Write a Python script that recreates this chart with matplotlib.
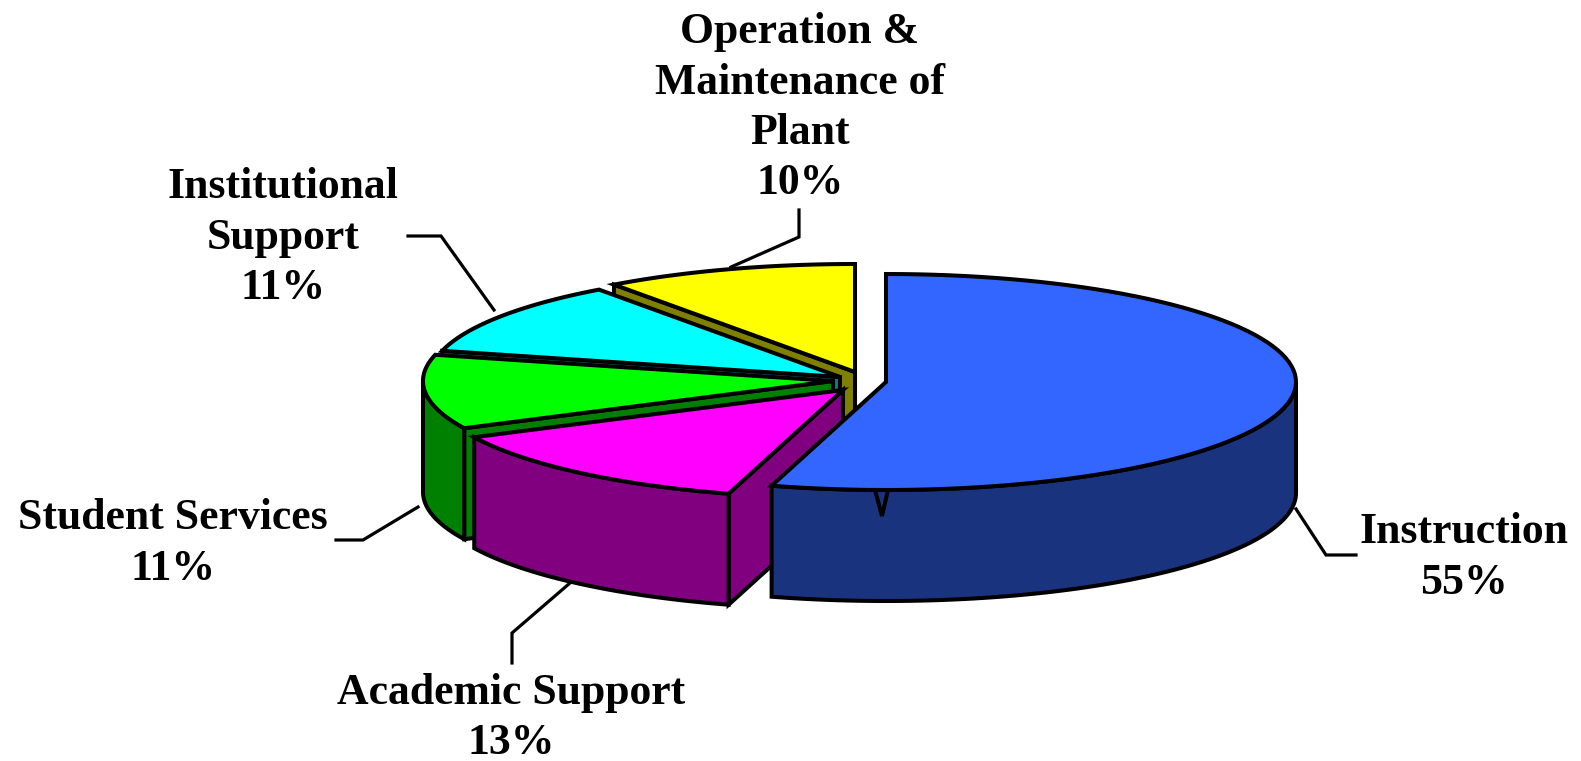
import numpy as np
import matplotlib
matplotlib.use("Agg")
import matplotlib.pyplot as plt
from matplotlib.patches import Polygon

# clockwise from 12 o'clock, share of the pie
categories = ["Instruction", "Academic Support", "Student Services",
              "Institutional\nSupport", "Operation &\nMaintenance of\nPlant"]
shares = [54.5, 13.3, 11.1, 11.1, 10.0]
pct_labels = ["55%", "13%", "11%", "11%", "10%"]
top_colors = ["#3366FF", "#FF00FF", "#00FF00", "#00FFFF", "#FFFF00"]
side_colors = ["#1A337F", "#800080", "#008000", "#008080", "#808000"]

# exploded apex of each slice, in pixels
apex_x = [886, 843, 833, 840, 855]
apex_y = [382, 390, 381, 377, 372]
RX, RY, DEPTH = 410, 108, 111
LW = 2.9


def arc(cx, cy, a0, a1):
    t = np.radians(np.linspace(a0, a1, 90))
    return np.column_stack([cx + RX * np.sin(t), cy - RY * np.cos(t)])


fig = plt.figure(figsize=(15.81, 7.61), dpi=100)
ax = fig.add_axes([0, 0, 1, 1])
ax.set_xlim(0, 1581)
ax.set_ylim(761, 0)
ax.axis("off")

style = dict(edgecolor="black", linewidth=LW, joinstyle="miter")
edges = np.concatenate([[0], np.cumsum(shares)]) * 3.6

# back to front, the last slice in clockwise order sits furthest back
for i in reversed(range(len(shares))):
    cx, cy = apex_x[i], apex_y[i]
    a0, a1 = edges[i], edges[i + 1]
    down = np.array([0, DEPTH])

    if a0 > 0:
        p = arc(cx, cy, a0, a0)[0]
        face = [(cx, cy), p, p + down, (cx, cy + DEPTH)]
        ax.add_patch(Polygon(face, facecolor=side_colors[i], **style))

    w0, w1 = max(a0, 90), min(a1, 270)
    if w0 < w1:
        rim = arc(cx, cy, w0, w1)
        wall = np.vstack([rim, (rim + down)[::-1]])
        ax.add_patch(Polygon(wall, facecolor=side_colors[i], **style))

    top = np.vstack([[(cx, cy)], arc(cx, cy, a0, a1)])
    ax.add_patch(Polygon(top, facecolor=top_colors[i], **style))

# small notch on the front wall of the big slice
ax.add_patch(Polygon([(875, 490), (882, 516), (888, 490)],
                     facecolor=side_colors[0], **style))

# leader lines
leaders = [
    [(1296, 509), (1326, 555), (1356, 555)],
    [(570, 583), (512, 633), (512, 663)],
    [(418, 507), (363, 540), (336, 540)],
    [(494, 310), (441, 236), (408, 236)],
    [(731, 267), (799, 237), (799, 210)],
]
for pts in leaders:
    xs, ys = zip(*pts)
    ax.plot(xs, ys, color="black", lw=2.3, solid_joinstyle="miter")

# label centre x and the y of the first line
label_pos = [(1464, 532), (511, 693), (173, 518), (283, 187), (800, 32)]
LINE = 50.5
for name, pct, (x, y) in zip(categories, pct_labels, label_pos):
    lines = name.split("\n") + [pct]
    for k, line in enumerate(lines):
        ax.text(x, y + k * LINE, line, ha="center", va="center",
                family="Liberation Serif", fontweight="bold", fontsize=31.5)

fig.savefig("out.png", dpi=100)
